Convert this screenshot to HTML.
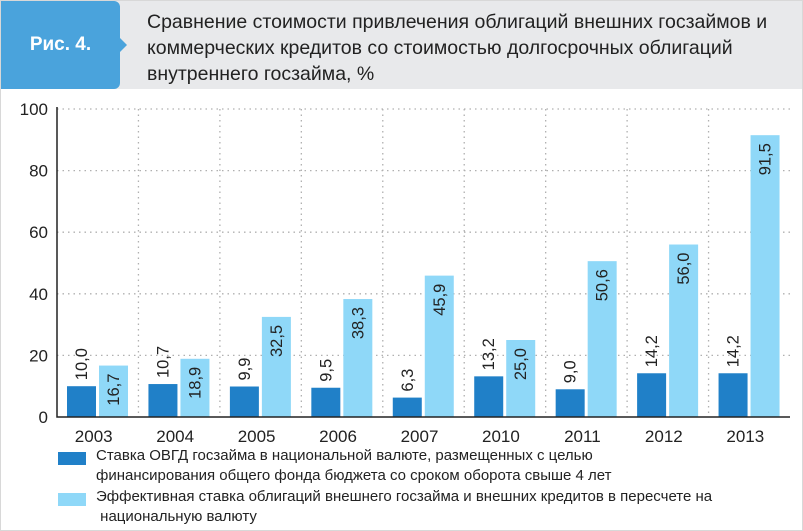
<!DOCTYPE html>
<html><head><meta charset="utf-8"><style>
body{margin:0;width:803px;height:531px;overflow:hidden;background:#fff;font-family:"Liberation Sans","DejaVu Sans",sans-serif}
#wrap{position:relative;width:801px;height:529px;border:1px solid #d8d8d8;background:#fff}
#hdr{position:absolute;left:0;top:0;width:801px;height:88px;background:#e8e9eb}
#badge{position:absolute;left:0;top:0;width:119px;height:88px;background:#4aa3dc;border-radius:0 6px 6px 0;color:#fff;font-weight:bold;font-size:19px;line-height:88px;text-align:center}
#badge:after{content:"";position:absolute;right:-7px;top:37px;border-left:7px solid #4aa3dc;border-top:7px solid transparent;border-bottom:7px solid transparent}
#title{position:absolute;left:146px;top:8px;font-size:19.5px;line-height:26px;color:#222}
.leg{position:absolute;left:57px;font-size:15px;line-height:20px;color:#222}
.sw{position:absolute;left:0;width:28px;height:13px}
</style></head><body>
<div id="wrap">
<div id="hdr">
<div id="badge">Рис. 4.</div>
<div id="title">Сравнение стоимости привлечения облигаций внешних госзаймов и<br>коммерческих кредитов со стоимостью долгосрочных облигаций<br>внутреннего госзайма, %</div>
</div>
<svg id="chart" width="801" height="440" style="position:absolute;left:0;top:88px"></svg>
<div class="leg" style="top:445px"><div class="sw" style="top:6px;background:#2080c8"></div><div style="margin-left:38px">Ставка ОВГД госзайма в национальной валюте, размещенных с целью<br>финансирования общего фонда бюджета со сроком оборота свыше 4 лет</div></div>
<div class="leg" style="top:486px"><div class="sw" style="top:6px;background:#8fd8f8"></div><div style="margin-left:38px">Эффективная ставка облигаций внешнего госзайма и внешних кредитов в пересчете на<br>&nbsp;национальную валюту</div></div>
</div>
<script>
const categories=["2003","2004","2005","2006","2007","2010","2011","2012","2013"];
const seriesOVGD=[10.0,10.7,9.9,9.5,6.3,13.2,9.0,14.2,14.2];
const seriesExternal=[16.7,18.9,32.5,38.3,45.9,25.0,50.6,56.0,91.5];
const yTicks=[0,20,40,60,80,100];
const NS="http://www.w3.org/2000/svg";
const svg=document.getElementById('chart');
const x0=56,x1=789,yb=328,yt=20;
const gw=(x1-x0)/categories.length;
const y=v=>yb-(v/100)*(yb-yt);
function mk(t,a){const e=document.createElementNS(NS,t);for(const k in a)e.setAttribute(k,a[k]);svg.appendChild(e);return e;}
const fmt=v=>v.toFixed(1).replace('.',',');
yTicks.forEach(t=>{
  if(t>0){const l=mk('line',{x1:x0,x2:x1,y1:y(t),y2:y(t),stroke:'#b0b0b0','stroke-dasharray':'1.5 4','stroke-width':1.3});
  
  }
  const tx=mk('text',{x:47,y:y(t)+6,'text-anchor':'end','font-size':17,fill:'#222'});tx.textContent=t;
  
  
});
categories.forEach((c,i)=>{
  const gx=x0+i*gw;
  if(i>0){const l=mk('line',{x1:gx,x2:gx,y1:yt,y2:yb,stroke:'#b0b0b0','stroke-dasharray':'1.5 4','stroke-width':1.3});
  
  }
  const a=seriesOVGD[i],b=seriesExternal[i];
  const r1=mk('rect',{x:gx+10,y:y(a),width:29,height:yb-y(a),fill:'#2080c8'});
  
  
  const r2=mk('rect',{x:gx+42,y:y(b),width:29,height:yb-y(b),fill:'#8fd8f8'});
  
  
  const t1=mk('text',{transform:`translate(${gx+30},${y(a)-6}) rotate(-90)`,'font-size':16.5,fill:'#222'});t1.textContent=fmt(a);
  
  
  const t2=mk('text',{transform:`translate(${gx+62},${y(b)+8}) rotate(-90)`,'font-size':16.5,fill:'#222','text-anchor':'end'});t2.textContent=fmt(b);
  
  
  const xl=mk('text',{x:gx+gw/2-4,y:yb+25,'text-anchor':'middle','font-size':17,fill:'#222'});xl.textContent=c;
  
  
});
const ax=mk('path',{d:`M${x0},${yt-2}V${yb}H${x1}`,stroke:'#222','stroke-width':1.5,fill:'none'});


</script>
</body></html>
